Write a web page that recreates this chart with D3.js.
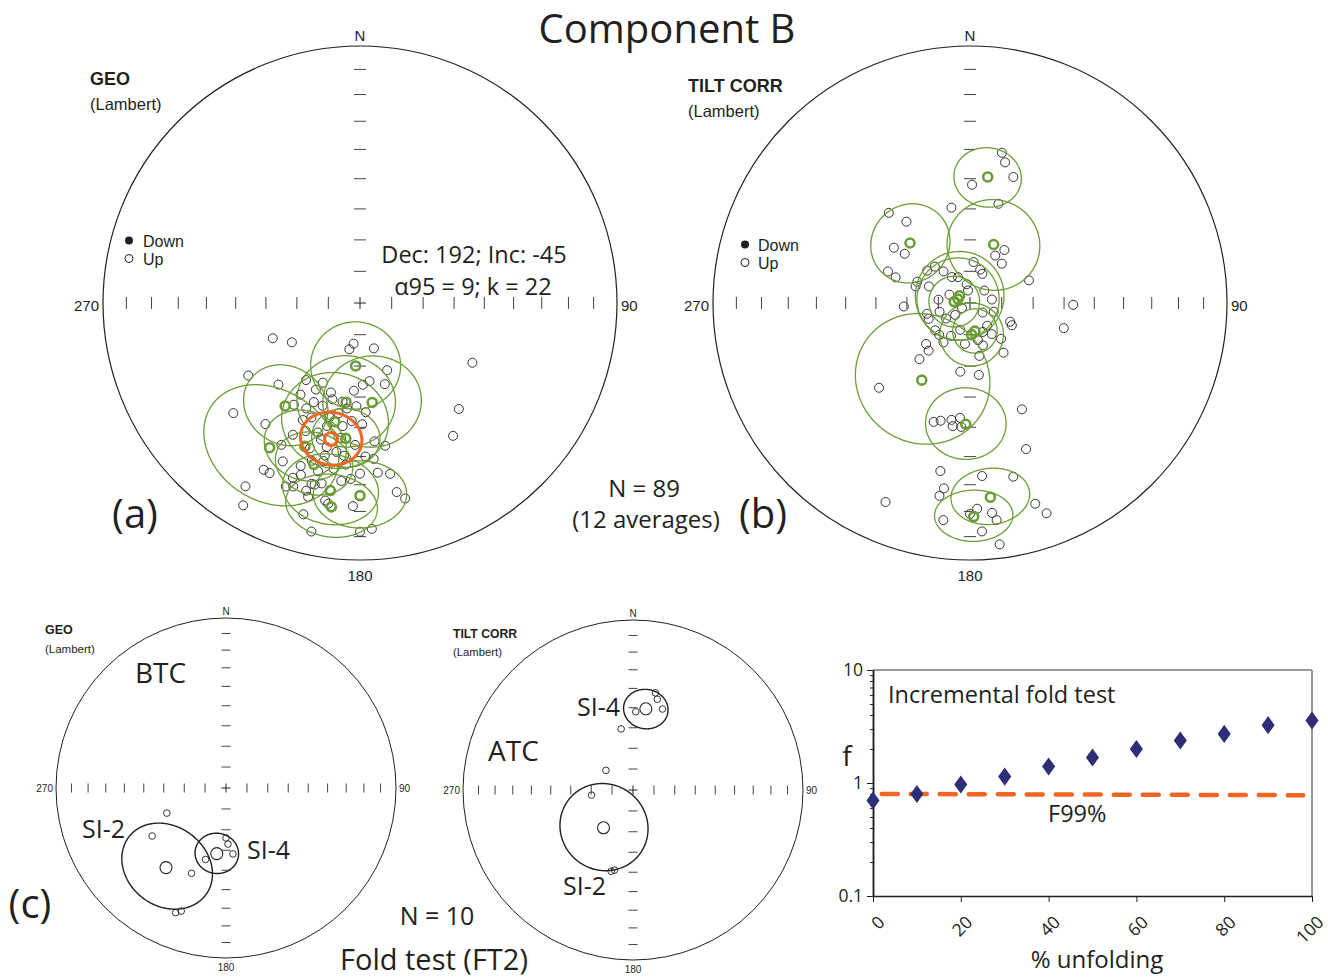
<!DOCTYPE html>
<html><head><meta charset="utf-8">
<script src="https://cdn.jsdelivr.net/npm/d3@7"></script>
<style>body{margin:0;background:#fff} svg{display:block}</style>
</head><body>
<svg id="c" width="1328" height="980"></svg>
<script>
// ---------------- DATA ----------------
// stereonet tick inclinations (10° steps along the axes)
const netTickIncs = [80, 70, 60, 50, 40, 30, 20, 10];

// (a) GEO: site directions [dec, inc] (all upper hemisphere)
const geoPts = [
 [248,-60],[240,-65],[193,-75],[189,-77],[163,-75],[237,-47],[158,-67],[225,-53],[215,-60],[207,-59],[205,-62],[198,-60],[184,-62],[178,-64],[173,-65],[163,-63],
 [229,-35],[213,-51],[207,-52],[205,-55],[200,-55],[187,-56],[182,-57],[218,-40],[206,-48],[203,-50],[207,-42],[203,-45],[198,-46],[195,-49],[188,-50],[174,-45],[170,-43],[209,-37],[199,-40],[189,-41],[182,-44],[175,-39],
 [210,-26],[208,-26],[174,-34],[170,-33],[212,-17],[202,-24],[200,-25],[195,-28],[194,-28],[196,-25],[195,-23],[192,-29],[169,-26],[167,-23],[210,-10],[190,-23],[189,-22],[182,-22],[195,-16],[192,-10],[180,-12],[177,-13],
 [118,-49],[137,-43],[145,-37],
 [196,-44],[193,-42],[188,-46],[197,-36],[193,-37],[186,-40],[200,-33],[189,-35],[185,-37],[195,-52],[191,-54],[184,-52],[179,-51],[213,-55],[206,-32],[183,-32],[180,-34],[186,-31],
 [196,-58],[190,-58],[177,-55],[201,-28],[199,-30],[194,-33],[178,-40],[193,-39]
];
// (a) site-group averages [dec, inc, a95]
const geoMeans = [
 [184,-70,14],[216,-49,13],[188,-58,15],[173,-58,15],[212,-34,20],[192,-51,16],
 [189,-27,13],[180,-26,12.5],[188,-21,12],[196,-35,11],[186,-46,10],[201,-40,12]
];
// (a) overall mean [dec, inc, a95]
const geoOverall = [[192,-45,9]];

// (b) TILT CORR: site directions [dec, inc]
const tiltPts = [
 [12,-40],[14,-43],[19,-47],[1,-52],[16,-57],[349,-59],[318,-51],[322,-57],[306,-60],[307,-64],[33,-70],[28,-73],[39,-74],[291,-62],[289,-65],[5,-77],[17,-79],[23,-80],[69,-70],[287,-72],[292,-72],[307,-73],[316,-74],[320,-77],[292,-76],[325,-80],[335,-81],[350,-84],[351,-86],[267,-69],[91,-57],[127,-85],[105,-59],[256,-76],[249,-76],[254,-80],[237,-81],[231,-84],[237,-87],[143,-81],[156,-80],[168,-78],[139,-75],[115,-76],[118,-75],[227,-71],[224,-76],[214,-75],
 [221,-70],[222,-66],[163,-76],[146,-71],[170,-73],[188,-68],[173,-67],[227,-50],[154,-52],[197,-50],[194,-51],[189,-52],[185,-53],[188,-50],[184,-50],[159,-39],[190,-34],[188,-28],[189,-25],[176,-33],[166,-31],[203,-17],[178,-21],[180,-19],[174,-19],[173,-16],[187,-16],[162,-19],[160,-14],[177,-12],[173,-6],
 [292,-83],[276,-80],[49,-84],[81,-83],[200,-81],[187,-77],[232,-76],[145,-78],[210,-78],[110,-82]
];
const tiltMeans = [
 [8,-49,10],[315,-63,12.5],[22,-70,14.5],[305,-86,14],[288,-86,13],[275,-85,8],
 [177,-80,10],[170,-81,7],[212,-61,21],[182,-51,12],[174,-25,10.5],[179,-18,10]
];

// (c) fold test: BTC (geographic) and ATC (tilt corrected)
const btcPts = [[247,-59],[237,-47],[202,-45],[196,-54],[180,-66],[178,-63],[174,-58],[202,-22],[200,-24]];
const btcMeans = [[217,-41,21],[188,-58,10]];   // SI-2, SI-4
const atcPts = [[13,-41],[15,-44],[20,-48],[2,-52],[349,-60],[306,-74],[263,-70],[195,-49],[193,-50]];
const atcMeans = [[9,-50,10],[218,-67,21]];     // SI-4, SI-2

// incremental fold test
const unfoldPct = [0,10,20,30,40,50,60,70,80,90,100];
const fRatio    = [0.70,0.80,0.97,1.14,1.40,1.68,2.00,2.38,2.72,3.25,3.57];
const f99Pct = [2, 98];
const f99Val = [0.80, 0.78];
const fYTicks = [0.1, 1, 10];
const fYMinor = [0.2,0.3,0.4,0.5,0.6,0.7,0.8,0.9,2,3,4,5,6,7,8,9];
const fXTicks = [0,20,40,60,80,100];

// ---------------- DRAWING ----------------
const svg = d3.select("#c");
const MY = "'Open Sans', 'Noto Sans', sans-serif";
const AR = "'Liberation Sans', Arial, sans-serif";
const GREEN = "#6a9e35", ORANGE = "#f26522", INK = "#231f20", NAVY = "#2e2d78";

function txt(x, y, s, size, opt = {}) {
  return svg.append("text").attr("x", x).attr("y", y).text(s)
    .attr("font-family", opt.font || MY).attr("font-size", size)
    .attr("font-weight", opt.bold ? "bold" : "normal")
    .attr("text-anchor", opt.anchor || "start").attr("fill", opt.fill || "#231f20");
}

function drawNet(o) {
  const proj = d3.geoAzimuthalEqualArea().rotate([0, -90]).reflectY(true)
    .scale(o.R / Math.SQRT2).translate([o.cx, o.cy]).clipAngle(179.9).precision(0.2);
  const path = d3.geoPath(proj);
  const g = svg.append("g");
  const pE = proj([90, 0]);
  const rPrim = pE[0] - o.cx;
  g.append("circle").attr("cx", o.cx).attr("cy", o.cy).attr("r", rPrim)
    .attr("fill", "none").attr("stroke", "#231f20").attr("stroke-width", o.primW);
  const tl = o.tl / 2;
  netTickIncs.forEach(inc => {
    [0, 180].forEach(dec => {
      const p = proj([dec, inc]);
      g.append("line").attr("x1", p[0] - tl).attr("x2", p[0] + tl).attr("y1", p[1]).attr("y2", p[1])
        .attr("stroke", "#444").attr("stroke-width", 1);
    });
    [90, 270].forEach(dec => {
      const p = proj([dec, inc]);
      g.append("line").attr("x1", p[0]).attr("x2", p[0]).attr("y1", p[1] - tl).attr("y2", p[1] + tl)
        .attr("stroke", "#444").attr("stroke-width", 1);
    });
  });
  const pc = proj([0, 90]);
  g.append("line").attr("x1", pc[0] - tl).attr("x2", pc[0] + tl).attr("y1", pc[1]).attr("y2", pc[1]).attr("stroke", "#231f20");
  g.append("line").attr("x1", pc[0]).attr("x2", pc[0]).attr("y1", pc[1] - tl).attr("y2", pc[1] + tl).attr("stroke", "#231f20");
  // labels
  const pN = proj([0, 0]), pS = proj([180, 0]), pW = proj([270, 0]);
  txt(pN[0], pN[1] - o.labN, "N", o.labSize, {font: AR, anchor: "middle"});
  txt(pE[0] + o.labG, pE[1] + o.labDy, "90", o.labSize, {font: AR});
  txt(pW[0] - o.labG, pW[1] + o.labDy, "270", o.labSize, {font: AR, anchor: "end"});
  txt(pS[0], pS[1] + o.labS, "180", o.labSize, {font: AR, anchor: "middle"});
  const P = d => proj([d[0], Math.abs(d[1])]);
  // site points
  g.append("g").selectAll("circle").data(o.pts).join("circle")
    .attr("cx", d => P(d)[0]).attr("cy", d => P(d)[1]).attr("r", o.ptR)
    .attr("fill", d => d[1] > 0 ? INK : "none").attr("stroke", INK).attr("stroke-width", 0.9);
  // confidence cones
  const cone = d => path(d3.geoCircle().center([d[0], Math.abs(d[1])]).radius(d[2]).precision(1)());
  g.append("g").selectAll("path").data(o.means).join("path").attr("d", cone)
    .attr("fill", "none").attr("stroke", o.meanColor).attr("stroke-width", o.coneW);
  g.append("g").selectAll("circle").data(o.means).join("circle")
    .attr("cx", d => P(d)[0]).attr("cy", d => P(d)[1]).attr("r", o.meanR)
    .attr("fill", "none").attr("stroke", o.meanColor).attr("stroke-width", o.meanW);
  if (o.overall) {
    g.append("g").selectAll("path").data(o.overall).join("path").attr("d", cone)
      .attr("fill", "none").attr("stroke", ORANGE).attr("stroke-width", 3);
    g.append("g").selectAll("circle").data(o.overall).join("circle")
      .attr("cx", d => P(d)[0]).attr("cy", d => P(d)[1]).attr("r", 6.5)
      .attr("fill", "none").attr("stroke", ORANGE).attr("stroke-width", 3);
  }
}

const bigNet = {R: 257, tl: 12, primW: 1.2, labSize: 15, labN: 5, labS: 21, labG: 4, labDy: 8,
  ptR: 4.5, meanR: 4.5, meanW: 2.6, coneW: 1.3, meanColor: GREEN};
drawNet(Object.assign({}, bigNet, {cx: 360, cy: 303, pts: geoPts, means: geoMeans, overall: geoOverall}));
drawNet(Object.assign({}, bigNet, {cx: 970, cy: 303, pts: tiltPts, means: tiltMeans}));

const smallNet = {R: 170, tl: 9, primW: 1, labSize: 10, labN: 3, labS: 13, labG: 3, labDy: 4,
  ptR: 3.3, meanR: 6, meanW: 1.1, coneW: 1.4, meanColor: INK};
drawNet(Object.assign({}, smallNet, {cx: 226, cy: 788, pts: btcPts, means: btcMeans}));
drawNet(Object.assign({}, smallNet, {cx: 633, cy: 790, pts: atcPts, means: atcMeans}));

// ---- text: top panels ----
txt(667, 43, "Component B", 40, {anchor: "middle"});
txt(90, 85, "GEO", 18, {font: AR, bold: true});
txt(90, 110, "(Lambert)", 16.5, {font: AR});
svg.append("circle").attr("cx", 129).attr("cy", 240.5).attr("r", 4).attr("fill", INK);
svg.append("circle").attr("cx", 129).attr("cy", 258.5).attr("r", 4).attr("fill", "none").attr("stroke", INK);
txt(143, 247, "Down", 16, {font: AR});
txt(143, 265, "Up", 16, {font: AR});
txt(688, 92, "TILT CORR", 18, {font: AR, bold: true});
txt(688, 117, "(Lambert)", 16.5, {font: AR});
svg.append("circle").attr("cx", 745).attr("cy", 244.5).attr("r", 4).attr("fill", INK);
svg.append("circle").attr("cx", 745).attr("cy", 262.5).attr("r", 4).attr("fill", "none").attr("stroke", INK);
txt(758, 251, "Down", 16, {font: AR});
txt(758, 269, "Up", 16, {font: AR});
txt(474, 263, "Dec: 192; Inc: -45", 23.5, {anchor: "middle"});
txt(473, 295, "α95 = 9; k = 22", 23.5, {anchor: "middle"});
txt(135, 528, "(a)", 40, {anchor: "middle"});
txt(644, 497, "N = 89", 24, {anchor: "middle"});
txt(646, 528, "(12 averages)", 24, {anchor: "middle"});
txt(763, 528, "(b)", 40, {anchor: "middle"});

// ---- text: bottom panels ----
txt(45, 634, "GEO", 12.5, {font: AR, bold: true});
txt(45, 653, "(Lambert)", 11.5, {font: AR});
txt(453, 638, "TILT CORR", 12.2, {font: AR, bold: true});
txt(453, 656, "(Lambert)", 11.3, {font: AR});
txt(135, 683, "BTC", 28);
txt(82, 838, "SI-2", 25);
txt(247, 859, "SI-4", 25);
txt(488, 761, "ATC", 28);
txt(577, 716, "SI-4", 25);
txt(563, 895, "SI-2", 25);
txt(437, 925, "N = 10", 25, {anchor: "middle"});
txt(434, 970, "Fold test (FT2)", 29, {anchor: "middle"});
txt(30, 918, "(c)", 40, {anchor: "middle"});

// ---- incremental fold test chart ----
const fx = d3.scaleLinear().domain([0, 100]).range([873, 1312]);
const fy = d3.scaleLog().domain([0.1, 10]).range([896, 670]);
const fc = svg.append("g");
fc.append("line").attr("x1", fx(0)).attr("x2", fx(100)).attr("y1", fy(10)).attr("y2", fy(10)).attr("stroke", "#999").attr("stroke-width", 2);
fc.append("line").attr("x1", fx(100)).attr("x2", fx(100)).attr("y1", fy(10)).attr("y2", fy(0.1)).attr("stroke", "#999").attr("stroke-width", 2);
const yMinor = fc.append("g").attr("transform", `translate(${fx(0)},0)`)
  .call(d3.axisLeft(fy).tickValues(fYMinor).tickSize(3).tickSizeOuter(0).tickFormat(""));
const yMajor = fc.append("g").attr("transform", `translate(${fx(0)},0)`)
  .call(d3.axisLeft(fy).tickValues(fYTicks).tickSize(6).tickSizeOuter(0).tickPadding(4).tickFormat(d => String(d)));
const xAx = fc.append("g").attr("transform", `translate(0,${fy(0.1)})`)
  .call(d3.axisBottom(fx).tickValues(fXTicks).tickSize(6).tickSizeOuter(0));
[yMinor, yMajor, xAx].forEach(a => {
  a.selectAll("path.domain").attr("stroke", "#231f20").attr("stroke-width", 1.5);
  a.selectAll(".tick line").attr("stroke", "#231f20");
});
yMajor.selectAll(".tick text").attr("font-family", MY).attr("font-size", 17.5).attr("fill", "#231f20");
xAx.selectAll(".tick text").attr("font-family", MY).attr("font-size", 17.5).attr("fill", "#231f20")
  .attr("text-anchor", "end").attr("dy", null).attr("y", null)
  .attr("dominant-baseline", "middle")
  .attr("transform", "translate(9,24) rotate(-45)");
// F99% critical value
fc.append("path").datum(f99Pct.map((p, i) => [p, f99Val[i]]))
  .attr("d", d3.line().x(d => fx(d[0])).y(d => fy(d[1])))
  .attr("fill", "none").attr("stroke", ORANGE).attr("stroke-width", 4.5)
  .attr("stroke-dasharray", "16 13").attr("stroke-linecap", "round");
// f values
fc.append("g").selectAll("path").data(unfoldPct.map((p, i) => [p, fRatio[i]])).join("path")
  .attr("d", d3.symbol().type(d3.symbolDiamond).size(95))
  .attr("transform", d => `translate(${fx(d[0])},${fy(d[1])}) scale(1.25,1)`)
  .attr("fill", NAVY);
txt(888, 703, "Incremental fold test", 23.5);
txt(1048, 822, "F99%", 23.5);
txt(1097, 968, "% unfolding", 24, {anchor: "middle"});
txt(847, 766, "f", 28, {anchor: "middle"});
</script>
</body></html>
